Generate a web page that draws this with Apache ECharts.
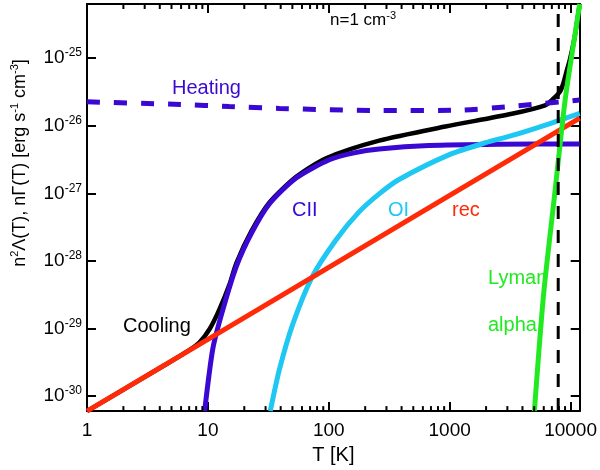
<!DOCTYPE html>
<html>
<head>
<meta charset="utf-8">
<script src="https://cdn.jsdelivr.net/npm/echarts@6/dist/echarts.min.js"></script>
<style>
html, body { margin: 0; padding: 0; background: #fff; }
#main { width: 600px; height: 470px; }
</style>
</head>
<body>
<div id="main"></div>
<script>
// axis ranges
var tMin = 1, tMax = 11900;
var yMin = 6.0e-31, yMax = 6.3e-25;
var xMinorTicks = [2, 3, 4, 5, 6, 7, 8, 9, 20, 30, 40, 50, 60, 70, 80, 90,
    200, 300, 400, 500, 600, 700, 800, 900, 2000, 3000, 4000, 5000, 6000, 7000, 8000, 9000];

// [T (K), rate (erg s^-1 cm^-3)]
var cooling = [[1, 6.0e-31], [4, 2.6e-30], [7, 4.8e-30], [8.5, 6.2e-30], [10.4, 1.0e-29],
    [12.5, 1.95e-29], [15.1, 4.5e-29], [17.2, 9.3e-29], [22.9, 2.75e-28], [32.3, 7.3e-28],
    [53.7, 1.75e-27], [95, 3.3e-27], [261, 6.0e-27], [923, 9.7e-27], [3270, 1.5e-26],
    [6150, 2.0e-26], [7200, 2.5e-26], [8180, 3.2e-26], [8700, 4.2e-26], [9270, 6.4e-26],
    [9890, 9.7e-26], [10730, 1.9e-25], [11900, 6.3e-25]];
var heating = [[1, 2.25e-26], [5.9, 2.06e-26], [15, 1.92e-26], [39, 1.8e-26], [261, 1.67e-26],
    [1260, 1.7e-26], [3250, 1.93e-26], [11900, 2.4e-26]];
var cII = [[9.4, 6.0e-31], [11.0, 5.1e-30], [13.3, 1.9e-29], [17.2, 8.3e-29], [22.9, 2.55e-28],
    [32.3, 7.0e-28], [53.7, 1.68e-27], [101, 3.13e-27], [162, 3.95e-27], [261, 4.5e-27],
    [673, 5.07e-27], [2550, 5.3e-27], [11900, 5.35e-27]];
var oI = [[32.8, 6.0e-31], [39.1, 2.5e-30], [50.3, 1.15e-29], [73.2, 5.9e-29], [114.6, 2.04e-28],
    [178, 5.3e-28], [261, 9.8e-28], [381, 1.6e-27], [984, 3.7e-27], [1984, 5.6e-27],
    [3250, 7.1e-27], [6190, 1.02e-26], [11900, 1.52e-26]];
var rec = [[1, 6.0e-31], [10, 6.9e-30], [100, 8.0e-29], [1000, 9.3e-28], [11900, 1.29e-26]];
var lymanAlpha = [[5020, 6.0e-31], [5960, 3.0e-29], [7340, 8.7e-28], [9040, 2.5e-26],
    [10730, 1.9e-25], [11900, 6.3e-25]];
var tMark = 7900;

var myChart = echarts.init(document.getElementById('main'));

var FONT = 'Liberation Sans';
var BLUE = '#3a08d2';
var CYAN = '#1ec8f2';
var RED = '#ff2a08';
var GREEN = '#22ea22';

function isDecade(v) {
    var e = Math.log10(v);
    return Math.abs(e - Math.round(e)) < 1e-6;
}

function lineSeries(name, data, color, extra) {
    var s = {
        name: name,
        type: 'line',
        data: data,
        symbol: 'none',
        smooth: 0.25,
        lineStyle: { color: color, width: 5 },
        z: 3
    };
    for (var k in extra) s[k] = extra[k];
    return s;
}

var frameLine = { show: true, onZero: false, lineStyle: { color: '#000', width: 2 } };
var tickStyle = { color: '#000', width: 2 };

function logX(pos, labels) {
    var a = {
        type: 'log',
        logBase: 10,
        min: tMin,
        max: tMax,
        position: pos,
        axisLine: frameLine,
        splitLine: { show: false },
        axisTick: { show: true, inside: true, length: 9, lineStyle: tickStyle },
        axisLabel: { show: false }
    };
    if (labels) {
        a.axisLabel = {
            margin: 10,
            fontSize: 19,
            fontFamily: FONT,
            color: '#000',
            showMaxLabel: false,
            formatter: function (v) { return isDecade(v) ? String(Math.round(v)) : ''; }
        };
        a.name = 'T [K]';
        a.nameLocation = 'middle';
        a.nameGap = 29;
        a.nameTextStyle = { fontSize: 20, fontFamily: FONT, color: '#000' };
    }
    return a;
}

function logY(pos, labels) {
    return {
        type: 'log',
        logBase: 10,
        min: yMin,
        max: yMax,
        position: pos,
        axisLine: frameLine,
        splitLine: { show: false },
        axisTick: { show: true, inside: true, length: 9, lineStyle: tickStyle },
        axisLabel: labels ? {
            margin: 5,
            showMinLabel: false,
            showMaxLabel: false,
            formatter: function (v) {
                if (!isDecade(v)) return '';
                return '{b|10}{s|' + Math.round(Math.log10(v)) + '}';
            },
            rich: {
                b: { fontSize: 19, fontFamily: FONT, color: '#000', lineHeight: 22 },
                s: { fontSize: 12, fontFamily: FONT, color: '#000', verticalAlign: 'top', lineHeight: 12 }
            }
        } : { show: false }
    };
}

// short inward ticks at 2..9 of every decade, on the bottom and top frame
function minorTickItem(params, api) {
    var b = api.coord([api.value(0), yMin]);
    var t = api.coord([api.value(0), yMax]);
    var st = { stroke: '#000', lineWidth: 2 };
    return {
        type: 'group',
        children: [
            { type: 'line', shape: { x1: b[0], y1: b[1], x2: b[0], y2: b[1] - 5 }, style: st },
            { type: 'line', shape: { x1: t[0], y1: t[1], x2: t[0], y2: t[1] + 5 }, style: st }
        ]
    };
}

option = {
    backgroundColor: '#fff',
    animation: false,
    grid: { left: 87, right: 18, top: 4, bottom: 53 },
    xAxis: [logX('bottom', true), logX('top', false)],
    yAxis: [logY('left', true), logY('right', false)],
    graphic: [
        { type: 'text', x: 20, y: 163, rotation: Math.PI / 2, z: 1,
          style: { text: '{n|n}{s|2}{n|Λ(T), nΓ(T) [erg s}{s|-1}{n| cm}{s|-3}{n|]}',
                   align: 'center', verticalAlign: 'middle',
                   rich: { n: { fontSize: 18, fontFamily: FONT, fill: '#000', lineHeight: 21 },
                           s: { fontSize: 11, fontFamily: FONT, fill: '#000', verticalAlign: 'top', lineHeight: 11 } } } },
        { type: 'text', x: 330, y: 20, z: 1,
          style: { text: '{n|n=1 cm}{s|-3}', align: 'left', verticalAlign: 'middle',
                   rich: { n: { fontSize: 17, fontFamily: FONT, fill: '#000', lineHeight: 20 },
                           s: { fontSize: 11, fontFamily: FONT, fill: '#000', verticalAlign: 'top', lineHeight: 11 } } } },
        { type: 'text', x: 172, y: 88, z: 1, style: { text: 'Heating', fill: BLUE, fontSize: 20, fontFamily: FONT, align: 'left', verticalAlign: 'middle' } },
        { type: 'text', x: 292, y: 210, z: 1, style: { text: 'CII', fill: BLUE, fontSize: 20, fontFamily: FONT, align: 'left', verticalAlign: 'middle' } },
        { type: 'text', x: 388, y: 210, z: 1, style: { text: 'OI', fill: CYAN, fontSize: 20, fontFamily: FONT, align: 'left', verticalAlign: 'middle' } },
        { type: 'text', x: 452, y: 210, z: 1, style: { text: 'rec', fill: RED, fontSize: 20, fontFamily: FONT, align: 'left', verticalAlign: 'middle' } },
        { type: 'text', x: 123, y: 326, z: 1, style: { text: 'Cooling', fill: '#000', fontSize: 20, fontFamily: FONT, align: 'left', verticalAlign: 'middle' } },
        { type: 'text', x: 488, y: 278, z: 1, style: { text: 'Lyman', fill: GREEN, fontSize: 20, fontFamily: FONT, align: 'left', verticalAlign: 'middle' } },
        { type: 'text', x: 488, y: 325, z: 1, style: { text: 'alpha', fill: GREEN, fontSize: 20, fontFamily: FONT, align: 'left', verticalAlign: 'middle' } }
    ],
    series: [
        {
            name: 'minor ticks',
            type: 'custom',
            data: xMinorTicks.map(function (v) { return [v, yMin]; }),
            encode: { x: 0, y: 1 },
            renderItem: minorTickItem,
            clip: false,
            silent: true,
            z: 5
        },
        lineSeries('Cooling', cooling, '#000', { lineStyle: { color: '#000', width: 4.5 } }),
        lineSeries('Heating', heating, BLUE, { lineStyle: { color: BLUE, width: 5, type: [13, 14] } }),
        lineSeries('CII', cII, BLUE),
        lineSeries('OI', oI, CYAN),
        lineSeries('rec', rec, RED, { smooth: false }),
        lineSeries('Lyman alpha', lymanAlpha, GREEN),
        {
            name: 'T mark',
            type: 'line',
            symbol: 'none',
            data: [[tMark, yMin], [tMark, yMax]],
            lineStyle: { color: '#000', width: 3, type: [13, 11] },
            z: 4
        }
    ]
};

myChart.setOption(option);
</script>
</body>
</html>
